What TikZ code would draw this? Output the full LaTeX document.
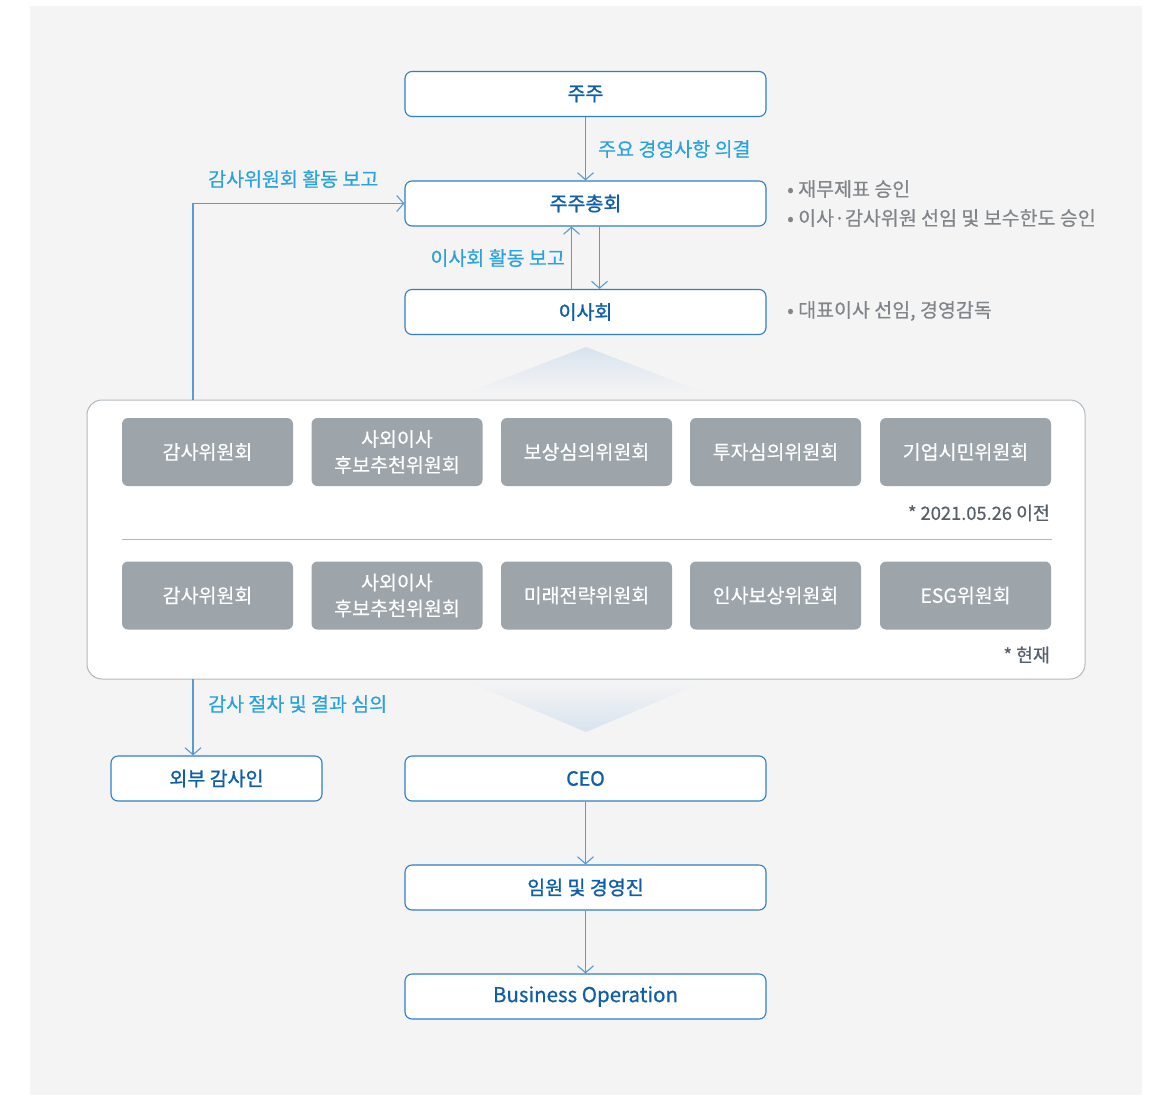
\documentclass[tikz,border=0pt]{standalone}
\usepackage{fontspec}
\setmainfont[FakeBold=0.5]{Noto Sans CJK KR}
\newfontfamily\medfont[FakeBold=1.2]{Noto Sans CJK KR}
\usetikzlibrary{arrows.meta}
\definecolor{bgc}{HTML}{F4F4F4}
\definecolor{boxblue}{HTML}{2F7EC6}
\definecolor{txtblue}{HTML}{0E5EAB}
\definecolor{lblblue}{HTML}{2AA2DC}
\definecolor{arrblue}{HTML}{5A9AD2}
\definecolor{notegray}{HTML}{80858A}
\definecolor{commgray}{HTML}{9DA5AB}
\definecolor{panelgray}{HTML}{B3B8BD}
\definecolor{footgray}{HTML}{55606A}
\definecolor{triblue}{HTML}{D8E3EF}
\begin{document}
\begin{tikzpicture}[x=1pt,y=-1pt,
  mainbox/.style={draw=boxblue, line width=1.1pt, rounded corners=7pt, fill=white,
    minimum width=361pt, minimum height=45pt, inner sep=0pt, text=txtblue,
    font=\fontsize{19.5}{22}\medfont},
  comm/.style={fill=commgray, rounded corners=6pt, minimum width=171pt, minimum height=68pt,
    inner sep=0pt, text=white, align=center, font=\fontsize{19.5}{26}\selectfont},
  arr/.style={draw=arrblue, line width=1.1pt, -{Straight Barb[length=7pt,width=16pt]}},
  lbl/.style={text=lblblue, inner sep=0pt, font=\fontsize{19.5}{22}\selectfont},
  note/.style={text=notegray, inner sep=0pt, anchor=west, font=\fontsize{19.5}{22}\selectfont},
  foot/.style={text=footgray, inner sep=0pt, anchor=east, font=\fontsize{18.3}{20}\selectfont}]
\useasboundingbox (0,0) rectangle (1156,1095);
\fill[white] (0,0) rectangle (1156,1095);
\fill[bgc] (30,6) rectangle (1142,1095);

% gradient triangles
\shade[top color=triblue, bottom color=bgc] (586,347) -- (706,393) -- (466,393) -- cycle;
\shade[top color=bgc, bottom color=triblue] (466,681) -- (706,681) -- (586,732) -- cycle;

% main boxes
\node[mainbox] (jj) at (585.5,94) {주주};
\node[mainbox] (agm) at (585.5,203.5) {주주총회};
\node[mainbox] (board) at (585.5,312) {이사회};
\node[mainbox] (ceo) at (585.5,778.5) {CEO};
\node[mainbox] (exec) at (585.5,887.5) {임원 및 경영진};
\node[mainbox, font=\fontsize{20.5}{22}\selectfont] (biz) at (585.5,996.5) {Business Operation};
\node[mainbox, minimum width=211pt] (ext) at (216.5,778.5) {외부 감사인};

% committee panel
\node[draw=panelgray, line width=1pt, fill=white, rounded corners=15pt,
  minimum width=998pt, minimum height=279pt, inner sep=0pt] (panel) at (586,539.5) {};
\node[comm] (c11) at (207.5,452) {감사위원회};
\node[comm] (c12) at (397,452) {사외이사\\후보추천위원회};
\node[comm] (c13) at (586.5,452) {보상심의위원회};
\node[comm] (c14) at (775.5,452) {투자심의위원회};
\node[comm] (c15) at (965.5,452) {기업시민위원회};
\node[foot] (f1) at (1050,513) {* 2021.05.26 이전};
\coordinate (dl) at (122,539);
\coordinate (dr) at (1052,539);
\draw[panelgray, line width=0.9pt] (dl) -- (dr);
\node[comm] (c21) at (207.5,595.5) {감사위원회};
\node[comm] (c22) at (397,595.5) {사외이사\\후보추천위원회};
\node[comm] (c23) at (586.5,595.5) {미래전략위원회};
\node[comm] (c24) at (775.5,595.5) {인사보상위원회};
\node[comm] (c25) at (965.5,595.5) {ESG위원회};
\node[foot] (f2) at (1050,655) {* 현재};

% connectors
\draw[arr] (jj) -- (agm);
\draw[arr] ([xshift=-14pt]board.north) -- ([xshift=-14pt]agm.south);
\draw[arr] ([xshift=14pt]agm.south) -- ([xshift=14pt]board.north);
\coordinate (auditTop) at (193,400);
\draw[arr] (auditTop) |- (agm.west);
\coordinate (auditBot) at (193,679);
\draw[arr] (auditBot) -- (auditBot |- ext.north);
\draw[arr] (ceo) -- (exec);
\draw[arr] (exec) -- (biz);

% labels
\node[lbl, anchor=west] (l1) at (598,149) {주요 경영사항 의결};
\node[lbl, anchor=east] (l2) at (565,258) {이사회 활동 보고};
\node[lbl, anchor=west] (l3) at (208,179) {감사위원회 활동 보고};
\node[lbl, anchor=west] (l4) at (208,704) {감사 절차 및 결과 심의};

% notes
\node[note] (n1) at (787,189) {• 재무제표 승인};
\node[note] (n2) at (787,218) {• 이사·감사위원 선임 및 보수한도 승인};
\node[note] (n3) at (787,311) {• 대표이사 선임, 경영감독};
\end{tikzpicture}
\end{document}
